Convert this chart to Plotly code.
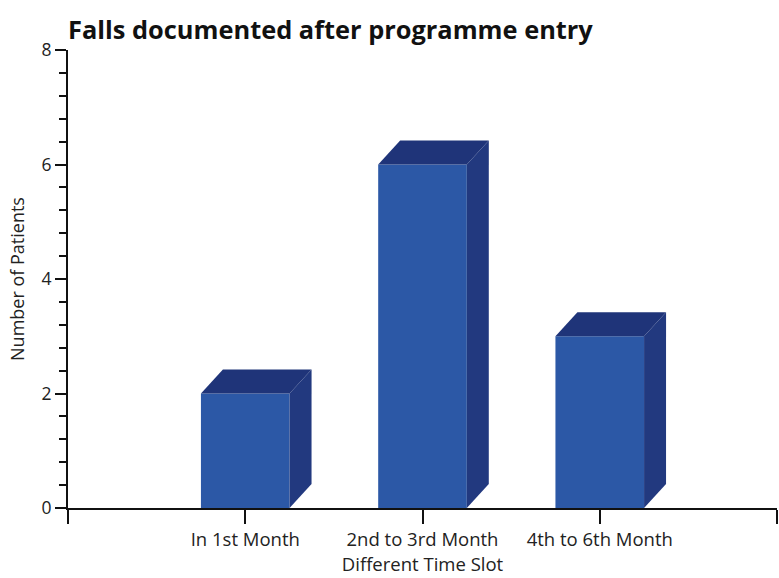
import plotly.graph_objects as go

categories = ["In 1st Month", "2nd to 3rd Month", "4th to 6th Month"]
patients = [2, 6, 3]
y_ticks = [0, 2, 4, 6, 8]

FRONT = "#2c58a6"
TOP = "#1f3479"
SIDE = "#22397f"
half_w = 0.25
dx = 0.124
dy = 0.42

xpos = list(range(len(categories)))

fig = go.Figure()
fig.add_trace(go.Bar(x=xpos, y=patients, width=2 * half_w,
                     marker=dict(color=FRONT, line=dict(width=0)),
                     hoverinfo="skip"))

shapes = []
for x, v in zip(xpos, patients):
    l, r = x - half_w, x + half_w
    top = f"M {l},{v} L {r},{v} L {r+dx},{v+dy} L {l+dx},{v+dy} Z"
    side = f"M {r},0 L {r},{v} L {r+dx},{v+dy} L {r+dx},{dy} Z"
    shapes.append(dict(type="path", path=top, xref="x", yref="y",
                       fillcolor=TOP, line=dict(width=0)))
    shapes.append(dict(type="path", path=side, xref="x", yref="y",
                       fillcolor=SIDE, line=dict(width=0)))

fig.update_layout(
    width=779, height=578,
    margin=dict(l=68, r=2, t=50, b=70),
    paper_bgcolor="white", plot_bgcolor="white",
    font=dict(family="Open Sans", color="#222222", size=18),
    showlegend=False,
    shapes=shapes,
    title=dict(text="<b>Falls documented after programme entry</b>",
               x=68 / 779, xanchor="left", y=1 - 30 / 578, yanchor="middle",
               font=dict(size=25.4, color="#111111", family="Open Sans")),
    xaxis=dict(range=[-1, 3], tickvals=[-1] + xpos + [3],
               ticktext=[""] + categories + [""],
               showline=True, linecolor="#111111", linewidth=2,
               ticks="outside", ticklen=14, tickwidth=2, tickcolor="#111111",
               showgrid=False, zeroline=False, automargin=False,
               tickfont=dict(size=18.5),
               title=dict(text="Different Time Slot", standoff=8,
                          font=dict(size=18.5))),
    yaxis=dict(range=[0, 8], tickvals=y_ticks,
               showline=True, linecolor="#111111", linewidth=2,
               ticks="outside", ticklen=11, tickwidth=2, tickcolor="#111111",
               minor=dict(dtick=0.4, ticks="outside", ticklen=7, tickwidth=2,
                          tickcolor="#111111", showgrid=False),
               showgrid=False, zeroline=False, automargin=False,
               tickfont=dict(size=17.5),
               title=dict(text="Number of Patients", standoff=12,
                          font=dict(size=18))),
)

fig.write_html("out.html")
